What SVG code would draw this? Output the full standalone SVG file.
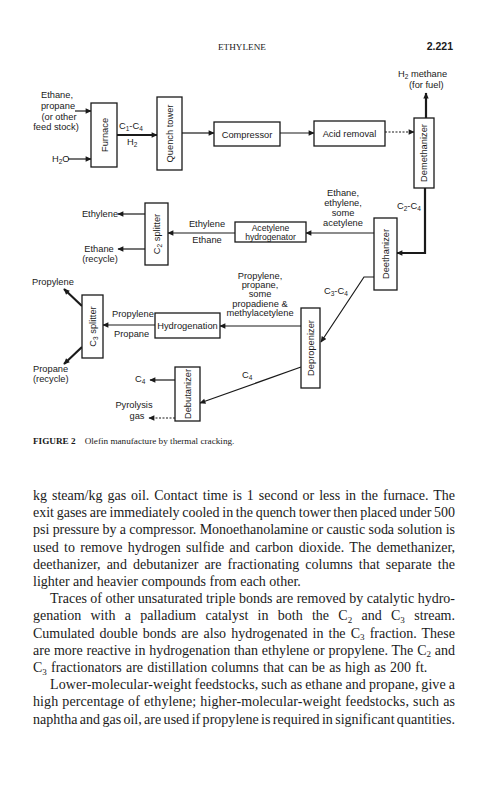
<svg xmlns="http://www.w3.org/2000/svg" width="481" height="800" viewBox="0 0 481 800">
<style>
.box{fill:#fff;stroke:#1a1a1a;stroke-width:1.3}
.lbl{font-family:"Liberation Sans",Arial,sans-serif;font-size:9.3px;fill:#1a1a1a}
.sm{font-size:8.6px}
.ln{stroke:#1a1a1a;stroke-width:1.2;fill:none}
.thick{stroke-width:2.2}
.dash{stroke-dasharray:2 1.5}
.body{font-family:"Liberation Serif","Times New Roman",serif;font-size:14px;fill:#1a1a1a}
.cap{font-family:"Liberation Serif","Times New Roman",serif;font-size:9.2px;fill:#1a1a1a}
</style>
<defs>
<marker id="ah" viewBox="0 0 10 10" refX="9" refY="5" markerWidth="7" markerHeight="6" orient="auto" markerUnits="userSpaceOnUse"><path d="M0,0.5 L10,5 L0,9.5 z" fill="#1a1a1a"/></marker>
</defs>
<rect width="481" height="800" fill="#fff"/>
<text x="218" y="50" class="cap" font-size="9">ETHYLENE</text>
<text x="453" y="50" text-anchor="end" font-family="Liberation Sans,Arial,sans-serif" font-weight="bold" font-size="10.5" fill="#1a1a1a">2.221</text>

<g id="connectors">
<line class="ln" x1="75" y1="111" x2="91" y2="111" marker-end="url(#ah)"/>
<line class="ln" x1="68" y1="159" x2="91" y2="159" marker-end="url(#ah)"/>
<line class="ln thick" x1="117" y1="135" x2="157" y2="135" marker-end="url(#ah)"/>
<line class="ln" x1="182" y1="133" x2="214" y2="133" marker-end="url(#ah)"/>
<line class="ln" x1="280" y1="133" x2="314" y2="133" marker-end="url(#ah)"/>
<line class="ln dash" x1="385" y1="132" x2="414" y2="132" marker-end="url(#ah)"/>
<line class="ln thick" x1="426" y1="118" x2="426" y2="93" marker-end="url(#ah)"/>
<polyline class="ln thick" points="425,188 425,253 397,253" marker-end="url(#ah)"/>
<line class="ln" x1="374" y1="233" x2="306" y2="233" marker-end="url(#ah)"/>
<line class="ln" x1="235" y1="233" x2="168" y2="233" marker-end="url(#ah)"/>
<line class="ln" x1="145" y1="214" x2="118" y2="214" marker-end="url(#ah)"/>
<line class="ln" x1="145" y1="249" x2="118" y2="249" marker-end="url(#ah)"/>
<polyline class="ln" points="374,277 364,277 321,342" marker-end="url(#ah)"/>
<line class="ln" x1="301" y1="326" x2="220" y2="326" marker-end="url(#ah)"/>
<line class="ln" x1="155" y1="325" x2="103" y2="325" marker-end="url(#ah)"/>
<line class="ln thick" x1="82" y1="306" x2="64" y2="289" marker-end="url(#ah)"/>
<line class="ln thick" x1="82" y1="347" x2="64" y2="364" marker-end="url(#ah)"/>
<line class="ln" x1="301" y1="367" x2="200" y2="403" marker-end="url(#ah)"/>
<line class="ln" x1="175" y1="380" x2="150" y2="380" marker-end="url(#ah)"/>
<line class="ln dash" x1="175" y1="418" x2="149" y2="418" marker-end="url(#ah)"/>
</g>

<g id="furnace"><rect class="box" x="91" y="103" width="26" height="64"/><text class="lbl" transform="translate(107.5,135) rotate(-90)" text-anchor="middle">Furnace</text></g>
<g id="quench"><rect class="box" x="157" y="97" width="25" height="73"/><text class="lbl" transform="translate(173.3,133.5) rotate(-90)" text-anchor="middle">Quench tower</text></g>
<g id="compressor"><rect class="box" x="214" y="122" width="66" height="24"/><text class="lbl" x="247" y="137.5" text-anchor="middle">Compressor</text></g>
<g id="acid"><rect class="box" x="314" y="121" width="71" height="25"/><text class="lbl" x="349.5" y="137" text-anchor="middle">Acid removal</text></g>
<g id="demethanizer"><rect class="box" x="414" y="118" width="20" height="70"/><text class="lbl" transform="translate(427.3,153) rotate(-90)" text-anchor="middle">Demethanizer</text></g>
<g id="deethanizer"><rect class="box" x="374" y="218" width="23" height="72"/><text class="lbl" transform="translate(388.8,254) rotate(-90)" text-anchor="middle">Deethanizer</text></g>
<g id="acetylene"><rect class="box" x="235" y="222" width="71" height="20"/><text class="lbl sm" x="270.5" y="230.5" text-anchor="middle">Acetylene</text><text class="lbl sm" x="270.5" y="239.5" text-anchor="middle">hydrogenator</text></g>
<g id="c2splitter"><rect class="box" x="145" y="203" width="23" height="62"/><text class="lbl" transform="translate(159.8,234) rotate(-90)" text-anchor="middle">C<tspan font-size="6.5" dy="2">2</tspan><tspan dy="-2"> splitter</tspan></text></g>
<g id="c3splitter"><rect class="box" x="82" y="295" width="21" height="63"/><text class="lbl" transform="translate(95.8,326.5) rotate(-90)" text-anchor="middle">C<tspan font-size="6.5" dy="2">3</tspan><tspan dy="-2"> splitter</tspan></text></g>
<g id="hydrogenation"><rect class="box" x="155" y="313" width="65" height="25"/><text class="lbl" x="187.5" y="329" text-anchor="middle">Hydrogenation</text></g>
<g id="depropenizer"><rect class="box" x="301" y="308" width="19" height="80"/><text class="lbl" transform="translate(313.8,348) rotate(-90)" text-anchor="middle">Depropenizer</text></g>
<g id="debutanizer"><rect class="box" x="175" y="367" width="25" height="54"/><text class="lbl" transform="translate(190.8,394) rotate(-90)" text-anchor="middle">Debutanizer</text></g>

<g id="labels" class="lbl">
<text x="57" y="98" text-anchor="middle">Ethane,</text>
<text x="58" y="108.5" text-anchor="middle">propane</text>
<text x="59" y="119.5" text-anchor="middle">(or other</text>
<text x="56" y="130" text-anchor="middle">feed stock)</text>
<text x="52" y="162">H<tspan font-size="6.5" dy="2">2</tspan><tspan dy="-2">O</tspan></text>
<text x="119" y="129">C<tspan font-size="6.5" dy="2">1</tspan><tspan dy="-2">-C</tspan><tspan font-size="6.5" dy="2">4</tspan></text>
<text x="127" y="145">H<tspan font-size="6.5" dy="2">2</tspan></text>
<text x="398" y="77">H<tspan font-size="6.5" dy="2">2</tspan><tspan dy="-2">   methane</tspan></text>
<text x="409" y="88">(for fuel)</text>
<text x="397" y="209">C<tspan font-size="6.5" dy="2">2</tspan><tspan dy="-2">-C</tspan><tspan font-size="6.5" dy="2">4</tspan></text>
<text x="343" y="196" text-anchor="middle">Ethane,</text>
<text x="343" y="206" text-anchor="middle">ethylene,</text>
<text x="343" y="216" text-anchor="middle">some</text>
<text x="343" y="226" text-anchor="middle">acetylene</text>
<text x="207" y="227" text-anchor="middle">Ethylene</text>
<text x="207" y="243" text-anchor="middle">Ethane</text>
<text x="100" y="217" text-anchor="middle">Ethylene</text>
<text x="99" y="252" text-anchor="middle">Ethane</text>
<text x="100" y="262" text-anchor="middle">(recycle)</text>
<text x="32" y="285">Propylene</text>
<text x="33" y="372">Propane</text>
<text x="33" y="382">(recycle)</text>
<text x="112" y="317">Propylene</text>
<text x="114" y="337">Propane</text>
<text x="260" y="279" text-anchor="middle">Propylene,</text>
<text x="260" y="288" text-anchor="middle">propane,</text>
<text x="260" y="297" text-anchor="middle">some</text>
<text x="260" y="307" text-anchor="middle">propadiene &amp;</text>
<text x="260" y="316" text-anchor="middle">methylacetylene</text>
<text x="324" y="294">C<tspan font-size="6.5" dy="2">3</tspan><tspan dy="-2">-C</tspan><tspan font-size="6.5" dy="2">4</tspan></text>
<text x="242" y="378">C<tspan font-size="6.5" dy="2">4</tspan></text>
<text x="135" y="382">C<tspan font-size="6.5" dy="2">4</tspan></text>
<text x="134" y="408" text-anchor="middle">Pyrolysis</text>
<text x="137" y="419" text-anchor="middle">gas</text>
</g>

<text class="cap" x="33" y="444"><tspan font-weight="bold">FIGURE 2</tspan><tspan dx="9">Olefin manufacture by thermal cracking.</tspan></text>

<g class="body">
<text x="33" y="500" word-spacing="1.4" textLength="422" lengthAdjust="spacing">kg steam/kg gas oil. Contact time is 1 second or less in the furnace. The</text>
<text x="33" y="517.2" word-spacing="-0.8" textLength="422" lengthAdjust="spacing">exit gases are immediately cooled in the quench tower then placed under 500</text>
<text x="33" y="534.4" word-spacing="-0.1" textLength="422" lengthAdjust="spacing">psi pressure by a compressor. Monoethanolamine or caustic soda solution is</text>
<text x="33" y="551.6" word-spacing="1.8" textLength="422" lengthAdjust="spacing">used to remove hydrogen sulfide and carbon dioxide. The demethanizer,</text>
<text x="33" y="568.8" word-spacing="2.5" textLength="422" lengthAdjust="spacing">deethanizer, and debutanizer are fractionating columns that separate the</text>
<text x="33" y="586">lighter and heavier compounds from each other.</text>
<text x="50" y="603.2" textLength="405" lengthAdjust="spacing">Traces of other unsaturated triple bonds are removed by catalytic hydro-</text>
<text x="33" y="620.4" word-spacing="5.8" textLength="422" lengthAdjust="spacing">genation with a palladium catalyst in both the C<tspan font-size="9" dy="2.5">2</tspan><tspan dy="-2.5"> and C</tspan><tspan font-size="9" dy="2.5">3</tspan><tspan dy="-2.5"> stream.</tspan></text>
<text x="33" y="637.6" word-spacing="1.6" textLength="422" lengthAdjust="spacing">Cumulated double bonds are also hydrogenated in the C<tspan font-size="9" dy="2.5">3</tspan><tspan dy="-2.5"> fraction. These</tspan></text>
<text x="33" y="654.8" word-spacing="0.3" textLength="422" lengthAdjust="spacing">are more reactive in hydrogenation than ethylene or propylene. The C<tspan font-size="9" dy="2.5">2</tspan><tspan dy="-2.5"> and</tspan></text>
<text x="33" y="672" word-spacing="0.7">C<tspan font-size="9" dy="2.5">3</tspan><tspan dy="-2.5"> fractionators are distillation columns that can be as high as 200 ft.</tspan></text>
<text x="50" y="689.2" word-spacing="-0.6" textLength="405" lengthAdjust="spacing">Lower-molecular-weight feedstocks, such as ethane and propane, give a</text>
<text x="33" y="706.4" word-spacing="0.5" textLength="422" lengthAdjust="spacing">high percentage of ethylene; higher-molecular-weight feedstocks, such as</text>
<text x="33" y="723.6" word-spacing="-1.2" textLength="422" lengthAdjust="spacing">naphtha and gas oil, are used if propylene is required in significant quantities.</text>
</g>
</svg>
